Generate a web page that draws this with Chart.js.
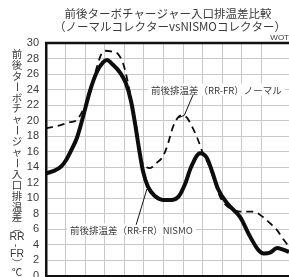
<!DOCTYPE html>
<html>
<head>
<meta charset="utf-8">
<script src="https://cdn.jsdelivr.net/npm/chart.js@4"></script>
<style>
  html, body { margin: 0; padding: 0; background: #fff; }
  canvas { display: block; }
</style>
</head>
<body>
<canvas id="tempChart" width="289" height="277"></canvas>
<script>
// grid positions along the x axis (one unit per vertical grid line)
const nismoX = [0, 0.46, 0.77, 1.02, 1.33, 1.58, 1.89, 2.24, 2.6, 2.91, 3.11, 3.42, 3.78, 4.08, 4.34, 4.54, 4.74, 4.95, 5.2, 5.56, 5.97, 6.43, 6.79, 7.09, 7.4, 7.86, 8.21, 8.47, 8.78, 9.23, 9.9, 10.41, 10.82, 11.12, 11.43, 11.79, 12.09, 12.4];
const nismoY = [13.2, 13.6, 14.1, 14.9, 16.4, 17.8, 20.5, 23.8, 26.3, 27.5, 27.8, 27.2, 26.2, 24.8, 22.5, 19.7, 16.5, 13.5, 11.5, 10.3, 9.8, 9.8, 10.3, 11.8, 14.0, 15.8, 15.2, 13.5, 11.2, 9.4, 7.6, 5.1, 3.4, 2.9, 3.0, 3.6, 3.4, 3.1];

const normalX = [0, 0.71, 1.22, 1.58, 1.89, 2.24, 2.55, 2.81, 3.01, 3.37, 3.67, 3.93, 4.13, 4.29, 4.49, 4.64, 4.8, 5.0, 5.31, 5.61, 5.97, 6.22, 6.48, 6.73, 6.94, 7.19, 7.4, 7.7, 8.01, 8.27, 8.52, 8.88, 9.39, 9.9, 10.56, 11.07, 11.43, 11.79, 12.09, 12.4];
const normalY = [19.0, 19.4, 19.8, 20.1, 21.4, 23.5, 26.5, 28.5, 29.0, 28.9, 28.6, 27.4, 25.5, 23.5, 20.5, 18.8, 15.4, 14.3, 13.9, 14.5, 15.4, 17.0, 19.2, 20.4, 20.7, 20.4, 19.5, 17.9, 15.8, 14.5, 12.8, 10.2, 8.7, 8.3, 8.3, 7.6, 6.8, 5.9, 4.8, 3.8];

const yTicks = [0, 2, 4, 6, 8, 10, 12, 14, 16, 18, 20, 22, 24, 26, 28, 30];

const titleLines = ['前後ターボチャージャー入口排温差比較', '（ノーマルコレクターvsNISMOコレクター）'];
const yTitleParts = ['前', '後', 'タ', 'ー', 'ボ', 'チ', 'ャ', 'ー', 'ジ', 'ャ', 'ー', '入', '口', '排', '温', '差', '（', 'RR', '-', 'FR', '）', '℃'];
const normalLabel = '前後排温差（RR-FR）ノーマル';
const nismoLabel = '前後排温差（RR-FR）NISMO';

const JP = '"Noto Sans CJK JP", "Noto Sans", sans-serif';
const TXT = '#3a3a3a';

function toPoints(xs, ys) {
    return xs.map((x, i) => ({ x: x, y: ys[i] }));
}

const decorations = {
    id: 'decorations',
    afterDatasetsDraw(chart) {
        const ctx = chart.ctx;
        const area = chart.chartArea;
        const xs = chart.scales.x;
        const ys = chart.scales.y;
        ctx.save();

        // top frame line
        ctx.strokeStyle = '#111';
        ctx.lineWidth = 2.5;
        ctx.beginPath();
        ctx.moveTo(area.left - 1, area.top);
        ctx.lineTo(area.right, area.top);
        ctx.stroke();

        // title
        ctx.fillStyle = TXT;
        ctx.textAlign = 'center';
        ctx.textBaseline = 'middle';
        ctx.font = '11.5px ' + JP;
        ctx.fillText(titleLines[0], 168, 14);
        ctx.fillText(titleLines[1], 170, 27);

        ctx.font = '8px "Liberation Sans", sans-serif';
        ctx.textAlign = 'right';
        ctx.fillText('WOT', 289, 38);

        // vertical y title
        ctx.textAlign = 'center';
        let y = 54;
        yTitleParts.forEach((ch, i) => {
            const step = i < 16 ? 10.9 : 8.8;
            if (i === 16) y = 228;
            if (ch === 'ー' || ch === '（' || ch === '）' || ch === '-') {
                ctx.save();
                ctx.translate(17, y);
                ctx.rotate(Math.PI / 2);
                ctx.font = '10.5px ' + JP;
                ctx.fillText(ch, 0, 0);
                ctx.restore();
            } else if (ch === 'RR' || ch === 'FR') {
                ctx.font = '10.5px "Liberation Sans", sans-serif';
                ctx.fillText(ch, 17, y);
            } else {
                ctx.font = '10.5px ' + JP;
                ctx.fillText(ch, 17, y);
            }
            y += step;
        });

        // callouts
        ctx.font = '9.5px ' + JP;
        ctx.textAlign = 'left';
        const callouts = [
            { text: normalLabel, x: 5.36, y: 24, line: [[7.5, 23.3], [7.06, 20.7], [6.8, 20.4]] },
            { text: nismoLabel, x: 1.22, y: 6, line: [[4.6, 6.6], [5.15, 11.2]] }
        ];
        callouts.forEach(c => {
            const px = xs.getPixelForValue(c.x);
            const py = ys.getPixelForValue(c.y);
            const w = ctx.measureText(c.text).width;
            ctx.fillStyle = '#fff';
            ctx.fillRect(px - 3, py - 6, w + 6, 12);
            ctx.fillStyle = TXT;
            ctx.fillText(c.text, px, py + 0.5);
            ctx.strokeStyle = '#111';
            ctx.lineWidth = 1;
            ctx.beginPath();
            c.line.forEach((p, i) => {
                const lx = xs.getPixelForValue(p[0]);
                const ly = ys.getPixelForValue(p[1]);
                if (i === 0) ctx.moveTo(lx, ly); else ctx.lineTo(lx, ly);
            });
            ctx.stroke();
        });

        ctx.restore();
    }
};

new Chart(document.getElementById('tempChart'), {
    type: 'line',
    data: {
        datasets: [{
            label: 'NISMO',
            data: toPoints(nismoX, nismoY),
            borderColor: '#0d0d0d',
            borderWidth: 4,
            pointRadius: 0,
            cubicInterpolationMode: 'monotone',
            fill: false,
        }, {
            label: 'ノーマル',
            data: toPoints(normalX, normalY),
            borderColor: '#0d0d0d',
            borderWidth: 1.8,
            borderDash: [7, 5],
            pointRadius: 0,
            cubicInterpolationMode: 'monotone',
            fill: false,
        }]
    },
    options: {
        responsive: false,
        animation: false,
        layout: { padding: { top: 43, right: 0, bottom: 1, left: 0 } },
        plugins: {
            legend: { display: false },
            tooltip: { enabled: false },
        },
        scales: {
            x: {
                type: 'linear',
                min: 0,
                max: 12.4,
                grid: { color: '#c8c8c8', lineWidth: 1, drawTicks: false },
                border: { color: '#111', width: 2.5 },
                ticks: { display: false, stepSize: 1 },
                afterFit: (scale) => {
                    scale.height = 0;
                    scale.paddingLeft = 0;
                    scale.paddingRight = 0;
                }
            },
            y: {
                min: 0,
                max: 30,
                grid: { color: '#c8c8c8', lineWidth: 1, drawTicks: false },
                border: { color: '#111', width: 2.5 },
                afterBuildTicks: (scale) => { scale.ticks = yTicks.map(v => ({ value: v })); },
                ticks: {
                    color: TXT,
                    padding: 7,
                    autoSkip: false,
                    font: { size: 11, family: '"Liberation Sans", sans-serif' },
                },
                afterFit: (scale) => {
                    scale.width = 46;
                    scale.paddingTop = 0;
                    scale.paddingBottom = 0;
                }
            }
        }
    },
    plugins: [decorations]
});
</script>
</body>
</html>
